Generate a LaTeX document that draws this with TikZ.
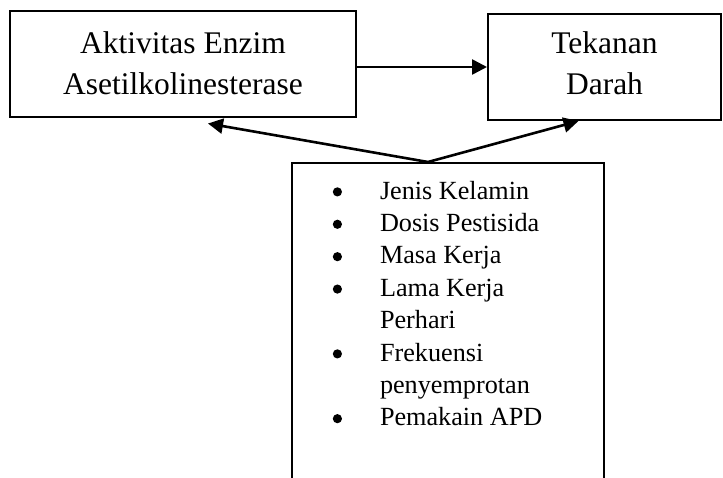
\documentclass[tikz,border=0pt]{standalone}
\usepackage{fontspec}
\setmainfont{Liberation Serif}
\usetikzlibrary{arrows.meta}
\newcommand{\titik}{\tikz[baseline=0pt]\fill (2.3pt,3.6pt) circle (2.3pt);}
\begin{document}
\begin{tikzpicture}[x=0.5pt, y=-0.5pt,
  kotak/.style={draw, line width=1pt, inner sep=0pt, align=center, font=\fontsize{15.75}{20.5}\selectfont},
  panah/.style={line width=1.3pt, -{Triangle[length=7.5pt,width=7.5pt]}}]
% Set the frame of the picture
\useasboundingbox (0,0) rectangle (723,477);
\clip (0,0) rectangle (723,477);

% Draw the boxes and insert the text
\node[kotak, minimum width=173pt, minimum height=53pt] (aktivitas) at (183,63.5) {Aktivitas Enzim\\Asetilkolinesterase};
\node[kotak, minimum width=116.5pt, minimum height=53pt] (tekanan) at (604.5,67) {Tekanan\\Darah\rule[-4pt]{0pt}{0pt}};
\node[draw, line width=1pt, inner xsep=0pt, inner ysep=6.7pt, anchor=north west, text depth=150pt, font=\fontsize{13.1}{16.2}\selectfont] (faktor) at (291,162) {%
\begin{tabular}[t]{@{\hspace{20.4pt}}p{23.6pt}@{}p{112pt}@{}}
\titik & Jenis Kelamin\\
\titik & Dosis Pestisida\\
\titik & Masa Kerja\\
\titik & Lama Kerja\\
       & Perhari\\
\titik & Frekuensi\\
       & penyemprotan\\
\titik & Pemakain APD
\end{tabular}};

% Arrows between the boxes
\coordinate (pangkal) at ([xshift=-10pt]faktor.north);
\coordinate (kiri) at ([xshift=12.5pt, yshift=-3pt]aktivitas.south);
\coordinate (kanan) at ([xshift=-13pt]tekanan.south);
\draw[panah] (tekanan.west -| aktivitas.east) -- (tekanan.west);
\draw[panah] (pangkal) -- (kiri);
\draw[panah] (pangkal) -- (kanan);
\end{tikzpicture}
\end{document}
